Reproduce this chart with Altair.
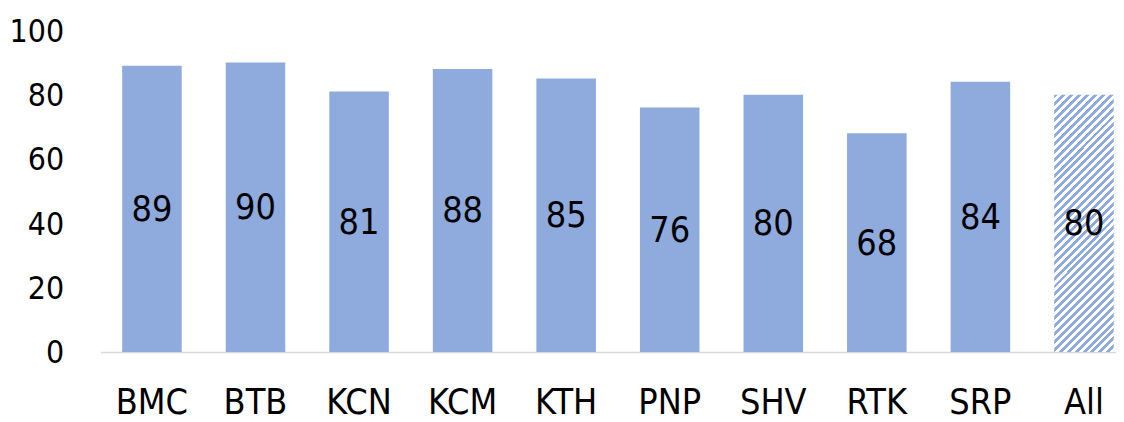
import altair as alt
import pandas as pd

categories = ["BMC", "BTB", "KCN", "KCM", "KTH", "PNP", "SHV", "RTK", "SRP", "All"]
values = [89, 90, 81, 88, 85, 76, 80, 68, 84, 80]
y_ticks = [0, 20, 40, 60, 80, 100]

df = pd.DataFrame({"cat": categories, "val": values})

FONT = "DejaVu Sans Condensed, sans-serif"
BLUE = "#8FAADC"
FS = 36
FS_Y = 32

# hatch pattern for the "All" bar built as a hard-stop linear gradient
n_stripes = 40
stops = []
for i in range(n_stripes):
    a = i / n_stripes
    m = (i + 0.5) / n_stripes
    b = (i + 1) / n_stripes
    stops += [
        alt.GradientStop(color=BLUE, offset=a),
        alt.GradientStop(color=BLUE, offset=m),
        alt.GradientStop(color="#ffffff", offset=m),
        alt.GradientStop(color="#ffffff", offset=b),
    ]
hatch = alt.LinearGradient(gradient="linear", stops=stops, x1=0, y1=0, x2=0.2708, y2=1.169)

x_enc = alt.X(
    "cat:N",
    sort=categories,
    title=None,
    scale=alt.Scale(paddingInner=0.425, paddingOuter=0.1165, align=0.905),
    axis=alt.Axis(
        labelAngle=0,
        labelFont=FONT,
        labelFontSize=FS,
        labelColor="#000000",
        labelPadding=34,
        ticks=False,
        domainColor="#d9d9d9",
        domainWidth=1.5,
        grid=False,
    ),
)
y_enc = alt.Y(
    "val:Q",
    title=None,
    scale=alt.Scale(domain=[0, 100]),
    axis=alt.Axis(
        values=y_ticks,
        labelFont=FONT,
        labelFontSize=FS_Y,
        labelColor="#000000",
        labelPadding=37,
        labelOffset=1,
        ticks=False,
        domain=False,
        grid=False,
    ),
)

base = alt.Chart(df)

bars = base.mark_bar(color=BLUE).encode(x=x_enc, y=y_enc).transform_filter(
    alt.datum.cat != "All"
)
all_bar = base.mark_bar(color=hatch).encode(x=x_enc, y=y_enc).transform_filter(
    alt.datum.cat == "All"
)
labels = (
    base.transform_calculate(mid="datum.val / 2")
    .mark_text(font=FONT, fontSize=FS, color="#000000", baseline="middle", align="center", dy=1)
    .encode(x=x_enc, y=alt.Y("mid:Q", scale=alt.Scale(domain=[0, 100])), text="val:Q")
)

chart = (
    alt.layer(bars, all_bar, labels)
    .properties(
        width=1023,
        height=324,
        autosize=alt.AutoSizeParams(type="none"),
        padding={"left": 93, "top": 21, "right": 0, "bottom": 68},
        background="#ffffff",
    )
    .configure_view(stroke=None)
)

chart.save("out.html", embed_options={"renderer": "svg", "actions": False})
